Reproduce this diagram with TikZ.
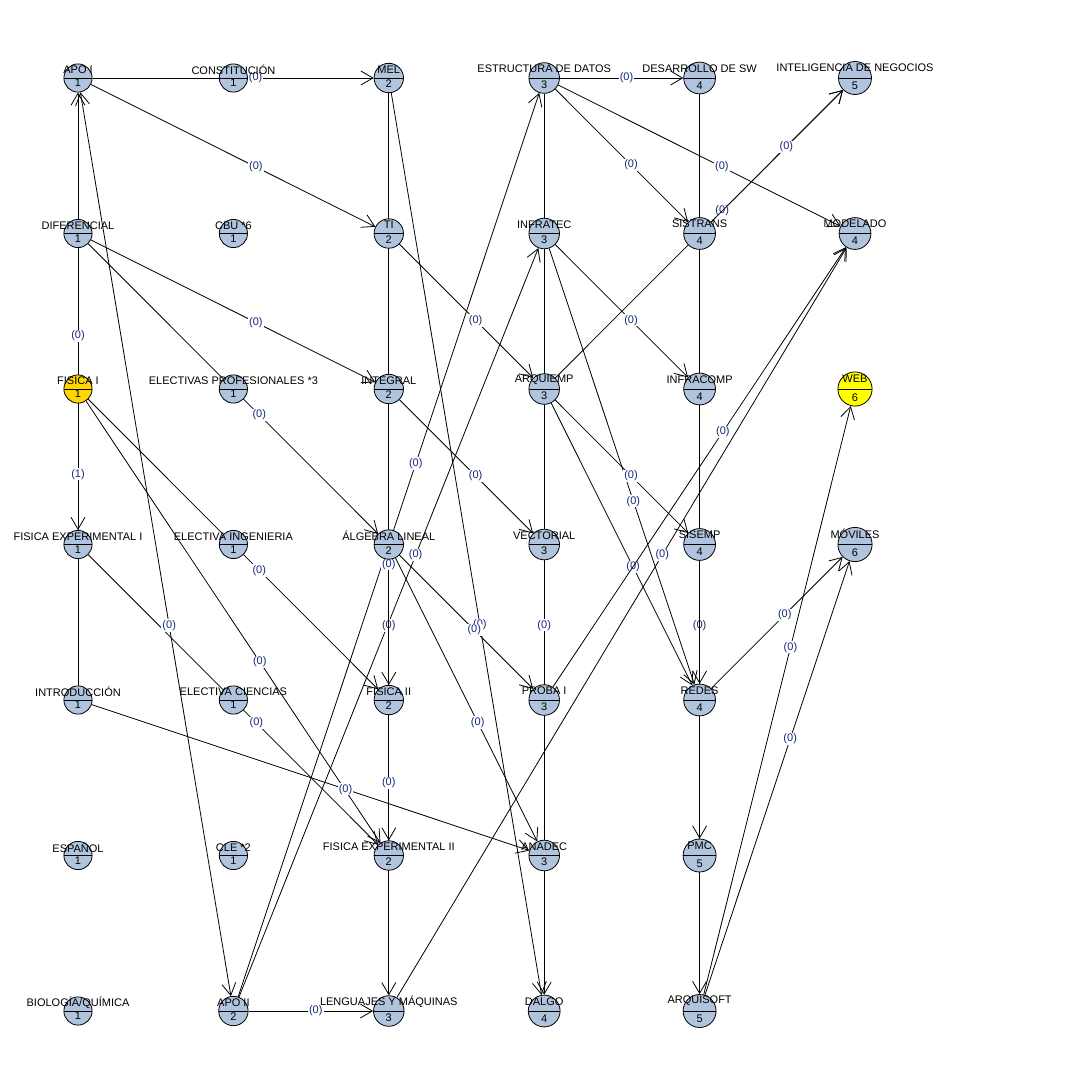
\documentclass[tikz,border=0pt]{standalone}
\usepackage{fontspec}
\setmainfont{Liberation Sans}
\usetikzlibrary{arrows.meta,backgrounds}
\definecolor{lsb}{HTML}{B0C4DE}
\definecolor{gld}{HTML}{FFD700}
\definecolor{ylw}{HTML}{FFFF00}
\definecolor{labblue}{RGB}{20,40,120}

\begin{document}
\begin{tikzpicture}[x=1pt,y=-1pt,
   >={Straight Barb[length=12pt,width=14pt]},
   crs/.style={circle,draw,line width=0.8pt,fill=#1,inner sep=0pt,
     path picture={\draw[line width=0.8pt] (path picture bounding box.west) -- (path picture bounding box.east);}},
   crs/.default=lsb,
   ttl/.style={font=\fontsize{11}{11}\selectfont,inner sep=0pt},
   pre/.style={->,line width=0.8pt},
   lbl/.style={fill=white,text=labblue,font=\fontsize{11}{11}\selectfont,inner sep=1pt}]
 \useasboundingbox (0,0) rectangle (1088,1088);
 % courses: name/column/row/title/semester/fill
 \foreach \nm/\cc/\rr/\tx/\sem/\fc in {
   apoi/1/1/APO I/1/lsb, const/2/1/CONSTITUCIÓN/1/lsb, mel/3/1/MEL/2/lsb,
   estr/4/1/ESTRUCTURA DE DATOS/3/lsb, desa/5/1/DESARROLLO DE SW/4/lsb,
   intel/6/1/INTELIGENCIA DE NEGOCIOS/5/lsb,
   dif/1/2/DIFERENCIAL/1/lsb, cbu/2/2/CBU *6/1/lsb, ti/3/2/TI/2/lsb,
   infra/4/2/INFRATEC/3/lsb, sistr/5/2/SISTRANS/4/lsb, model/6/2/MODELADO/4/lsb,
   fisi/1/3/FISICA I/1/gld, electp/2/3/ELECTIVAS PROFESIONALES *3/1/lsb,
   integ/3/3/INTEGRAL/2/lsb, arqe/4/3/ARQUIEMP/3/lsb, infc/5/3/INFRACOMP/4/lsb,
   web/6/3/WEB/6/ylw,
   fisei/1/4/FISICA EXPERIMENTAL I/1/lsb, electi/2/4/ELECTIVA INGENIERIA/1/lsb,
   alg/3/4/ÁLGEBRA LINEAL/2/lsb, vect/4/4/VECTORIAL/3/lsb, sise/5/4/SISEMP/4/lsb,
   mov/6/4/MÓVILES/6/lsb,
   intro/1/5/INTRODUCCIÓN/1/lsb, electc/2/5/ELECTIVA CIENCIAS/1/lsb,
   fisii/3/5/FISICA II/2/lsb, proba/4/5/PROBA I/3/lsb, redes/5/5/REDES/4/lsb,
   esp/1/6/ESPAÑOL/1/lsb, cle/2/6/CLE *2/1/lsb,
   fiseii/3/6/FISICA EXPERIMENTAL II/2/lsb, anadec/4/6/ANADEC/3/lsb, pmc/5/6/PMC/5/lsb,
   bio/1/7/{BIOLOGÍA/QUÍMICA}/1/lsb, apoii/2/7/APO II/2/lsb,
   leng/3/7/LENGUAJES Y MÁQUINAS/3/lsb, dalgo/4/7/DALGO/4/lsb, arqs/5/7/ARQUISOFT/5/lsb}
 {\node[crs=\fc,minimum size=27pt+1.2pt*\sem,
     label={[ttl,yshift=7.5pt+0.5pt*\sem]center:\tx},
     label={[ttl,yshift=-4.5pt-0.7pt*\sem]center:\sem}]
     (\nm) at (78+155.4*\cc-155.4,78+155.5*\rr-155.5) {};}
 \begin{scope}[on background layer]
  \foreach \a/\b/\p in {apoi/mel/0.58, apoi/ti/0.58, intro/apoi/0.59,
    dif/integ/0.58, dif/alg/0.59, fisi/fisii/0.59, fisi/fiseii/0.59,
    fisei/fiseii/0.58, intro/anadec/0.58, apoii/leng/0.54, apoii/estr/0.59,
    apoii/infra/0.59, mel/dalgo/0.59, mel/leng/0.59, integ/fisii/0.57,
    fisii/fiseii/0.54, ti/arqe/0.57, integ/vect/0.57, alg/proba/0.56,
    alg/anadec/0.58, estr/desa/0.54, estr/sistr/0.57, estr/model/0.58,
    estr/dalgo/0.59, infra/infc/0.57, infra/redes/0.58, arqe/intel/0.58,
    arqe/sise/0.57, arqe/redes/0.58, proba/model/0.58, leng/model/0.59,
    desa/arqs/0.59, sistr/intel/0.57, redes/mov/0.56, arqs/web/0.59,
    arqs/mov/0.59}
   \draw[pre] (\a) -- node[lbl,pos=\p]{(0)} (\b);
  \draw[pre] (fisi) -- node[lbl,pos=0.56]{(1)} (fisei);
  \draw[pre,<->] (apoi) -- node[lbl,pos=0.59]{(0)} (apoii);
  \foreach \a/\b in {sise/redes,redes/pmc}
   \draw[pre] (\a) -- (\b);
 \end{scope}
\end{tikzpicture}
\end{document}
